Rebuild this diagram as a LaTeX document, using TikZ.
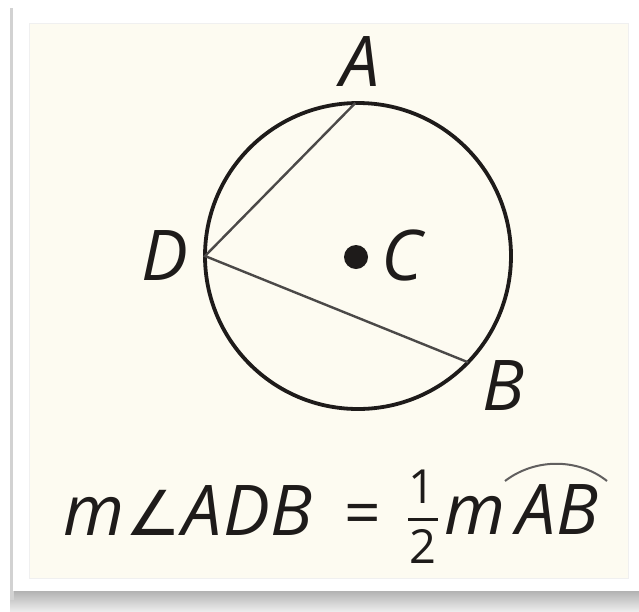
\documentclass[tikz,border=0pt]{standalone}
\usepackage{fontspec}
\setmainfont{Open Sans}
\newfontfamily\dvfont{DejaVu Sans}
\definecolor{cream}{HTML}{FDFBF1}
\definecolor{ink}{HTML}{1E1B1A}
\tikzset{
  lbl/.style={inner sep=0pt, text=ink, font=\fontsize{70}{84}\selectfont\itshape},
  digit/.style={inner sep=0pt, text=ink, font=\fontsize{47}{54}\selectfont},
}
\begin{document}
\begin{tikzpicture}[x=1pt,y=-1pt]
\useasboundingbox (0,0) rectangle (639,611);
\fill[white] (0,0) rectangle (639,611);
% shadow
\shade[top color=gray!60, bottom color=gray!15] (10,591) rectangle (639,611);
\fill[gray!35] (10,8) rectangle (14,600);
% frame
\fill[white] (13,6) rectangle (639,591);
\fill[cream, draw=black!6, line width=0.8pt] (29,23) rectangle (628,578);
% circle
\coordinate (C) at (358,256);
\draw[ink, line width=3.8pt] (C) circle[radius=153];
\path (C) ++(180:153) coordinate (D);
\path (C) ++(44:153) coordinate (B);
\path (C) ++(-91:153) coordinate (A);
\draw[ink!80, line width=2.4pt] (A) -- (D) -- (B);
\fill[ink] (356,257) circle[radius=12];
% labels
\node[lbl, anchor=base] (lA) at (360,86) {A};
\node[lbl, anchor=base] (lD) at (165,280) {D};
\node[lbl, anchor=base] (lC) at (402,280) {C};
\node[lbl, anchor=base] (lB) at (503,410) {B};
% formula
\node[lbl, anchor=base west] (f1) at (63,535) {m\kern1pt{\upshape\dvfont\fontsize{62}{70}\selectfont ∠}\kern2pt A\kern1pt D\kern1pt B};
\node[lbl, anchor=base, font=\fontsize{64}{72}\selectfont] (feq) at (363,535) {=};
\node[digit, anchor=base] (fn) at (422,503) {1};
\node[digit, anchor=base] (fd) at (423,563) {2};
\draw[ink, line width=3pt] (408,519) -- (438,519);
\node[lbl, anchor=base west] (f2) at (444,534) {m\,AB};
\draw[ink!70, line width=2pt] (505,481) .. controls (535,458) and (578,458) .. (607,481);
\end{tikzpicture}
\end{document}
